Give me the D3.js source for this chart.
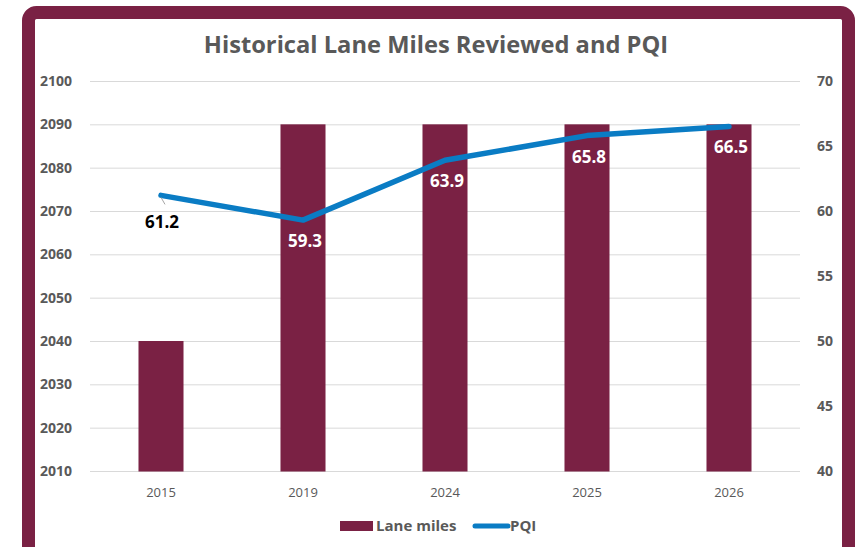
<!DOCTYPE html>
<html>
<head>
<meta charset="utf-8">
<title>Historical Lane Miles Reviewed and PQI</title>
<script src="https://cdnjs.cloudflare.com/ajax/libs/d3/7.8.5/d3.min.js"></script>
<style>
  body { margin: 0; background: #fff; }
  text { font-family: "Open Sans", "Noto Sans", sans-serif; }
</style>
</head>
<body>
<div id="chart"></div>
<script>
var years = ["2015", "2019", "2024", "2025", "2026"],
    laneMiles = [2040, 2090, 2090, 2090, 2090],
    pqi = [61.2, 59.3, 63.9, 65.8, 66.5],
    leftTicks = [2010, 2020, 2030, 2040, 2050, 2060, 2070, 2080, 2090, 2100],
    rightTicks = [40, 45, 50, 55, 60, 65, 70];

var width = 863, height = 547,
    maroon = "#7a2144",
    blue = "#0a7cc4",
    grey = "#595959",
    plot = { left: 90, right: 800, top: 81, bottom: 471 };

var svg = d3.select("#chart").append("svg")
    .attr("width", width)
    .attr("height", height);

// frame
svg.append("rect")
    .attr("x", 28.5).attr("y", 12.5)
    .attr("width", 820).attr("height", 545)
    .attr("rx", 8)
    .attr("fill", "#fff")
    .attr("stroke", maroon)
    .attr("stroke-width", 13);

svg.append("text")
    .attr("x", 436).attr("y", 53)
    .attr("text-anchor", "middle")
    .attr("font-size", 23.7).attr("font-weight", "bold")
    .attr("fill", grey)
    .text("Historical Lane Miles Reviewed and PQI");

var x = d3.scaleBand().domain(years).range([plot.left, plot.right]).paddingInner(0.683).paddingOuter(0.3415);
var yL = d3.scaleLinear().domain([2010, 2100]).range([plot.bottom, plot.top]);
var yR = d3.scaleLinear().domain([40, 70]).range([plot.bottom, plot.top]);

// gridlines
svg.append("g").selectAll("line").data(leftTicks).enter().append("line")
    .attr("x1", plot.left).attr("x2", plot.right)
    .attr("y1", function(d) { return yL(d) + 0.5; })
    .attr("y2", function(d) { return yL(d) + 0.5; })
    .attr("stroke", "#d9d9d9").attr("stroke-width", 1);

// left axis
var axL = svg.append("g")
    .attr("transform", "translate(" + (plot.left - 15) + ",0)")
    .call(d3.axisLeft(yL).tickValues(leftTicks).tickSize(0).tickFormat(d3.format("d")));
axL.select(".domain").remove();
axL.selectAll("text").attr("font-size", 14).attr("font-weight", "bold").attr("fill", grey)
    .style("font-family", "'Open Sans', sans-serif");

// right axis
var axR = svg.append("g")
    .attr("transform", "translate(" + (plot.right + 14) + ",0)")
    .call(d3.axisRight(yR).tickValues(rightTicks).tickSize(0));
axR.select(".domain").remove();
axR.selectAll("text").attr("font-size", 14).attr("font-weight", "bold").attr("fill", grey)
    .style("font-family", "'Open Sans', sans-serif");

// x axis
var axX = svg.append("g")
    .attr("transform", "translate(0," + (plot.bottom + 14) + ")")
    .call(d3.axisBottom(x).tickSize(0));
axX.select(".domain").remove();
axX.selectAll("text").attr("font-size", 13).attr("fill", grey)
    .style("font-family", "'Open Sans', sans-serif");

// bars
svg.append("g").selectAll("rect").data(laneMiles).enter().append("rect")
    .attr("x", function(d, i) { return x(years[i]); })
    .attr("width", x.bandwidth())
    .attr("y", function(d) { return yL(d); })
    .attr("height", function(d) { return plot.bottom + 0.5 - yL(d); })
    .attr("fill", maroon);

// PQI line
var cx = function(i) { return x(years[i]) + x.bandwidth() / 2; };
var line = d3.line()
    .x(function(d, i) { return cx(i); })
    .y(function(d) { return yR(d); });

svg.append("path")
    .datum(pqi)
    .attr("d", line)
    .attr("fill", "none")
    .attr("stroke", blue)
    .attr("stroke-width", 5.5)
    .attr("stroke-linecap", "round")
    .attr("stroke-linejoin", "round");

// leader line for first label
svg.append("line")
    .attr("x1", cx(0)).attr("y1", yR(pqi[0]) + 2)
    .attr("x2", cx(0) + 4).attr("y2", yR(pqi[0]) + 9)
    .attr("stroke", "#a6a6a6").attr("stroke-width", 1);

// data labels
svg.append("g").selectAll("text").data(pqi).enter().append("text")
    .attr("x", function(d, i) { return cx(i) + (i === 0 ? 1 : 2); })
    .attr("y", function(d, i) { return yR(d) + (i === 0 ? 27 : 21); })
    .attr("dy", "0.35em")
    .attr("text-anchor", "middle")
    .attr("font-size", 17).attr("font-weight", "bold")
    .attr("fill", function(d, i) { return i === 0 ? "#000" : "#fff"; })
    .text(function(d) { return d3.format(".1f")(d); });

// legend
var lg = svg.append("g");
lg.append("rect").attr("x", 340).attr("y", 521).attr("width", 33).attr("height", 10).attr("fill", maroon);
lg.append("text").attr("x", 376).attr("y", 526).attr("dy", "0.35em")
    .attr("font-size", 15).attr("font-weight", "bold").attr("fill", grey).text("Lane miles");
lg.append("line").attr("x1", 475).attr("x2", 508).attr("y1", 526).attr("y2", 526)
    .attr("stroke", blue).attr("stroke-width", 5).attr("stroke-linecap", "round");
lg.append("text").attr("x", 510).attr("y", 526).attr("dy", "0.35em")
    .attr("font-size", 15).attr("font-weight", "bold").attr("fill", grey).text("PQI");
</script>
</body>
</html>
